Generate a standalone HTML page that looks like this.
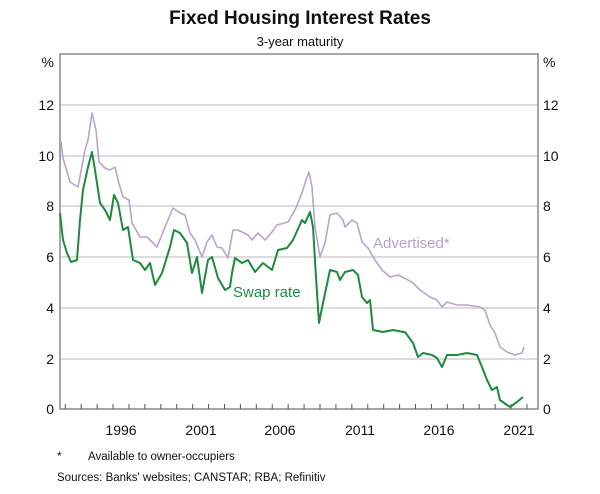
<!DOCTYPE html>
<html><head><meta charset="utf-8"><style>
body{margin:0;background:#fff;width:600px;height:489px;overflow:hidden;font-family:"Liberation Sans",Arial,sans-serif}
</style></head><body>
<svg id="s" width="600" height="489" xmlns="http://www.w3.org/2000/svg" font-family="Liberation Sans, Arial, sans-serif">
<text x="300" y="24" text-anchor="middle" font-size="19" font-weight="bold" fill="#111">Fixed Housing Interest Rates</text>
<text x="300" y="46" text-anchor="middle" font-size="13" fill="#111">3-year maturity</text>
<g stroke="#d0d0d0" stroke-width="1.5">
<line x1="60" x2="538" y1="105" y2="105"/><line x1="60" x2="538" y1="156" y2="156"/>
<line x1="60" x2="538" y1="206" y2="206"/><line x1="60" x2="538" y1="257" y2="257"/>
<line x1="60" x2="538" y1="308" y2="308"/><line x1="60" x2="538" y1="359" y2="359"/>
</g>
<rect x="60" y="54" width="478" height="355" fill="none" stroke="#888" stroke-width="1.5"/>
<g id="ticks" stroke="#555" stroke-width="1"></g>
<g font-size="14" fill="#111" text-anchor="end">
<text x="54" y="67">%</text><text x="54" y="110">12</text><text x="54" y="161">10</text><text x="54" y="211">8</text><text x="54" y="262">6</text><text x="54" y="313">4</text><text x="54" y="364">2</text><text x="54" y="414">0</text>
</g>
<g font-size="14" fill="#111" text-anchor="start">
<text x="543" y="67">%</text><text x="543" y="110">12</text><text x="543" y="161">10</text><text x="543" y="211">8</text><text x="543" y="262">6</text><text x="543" y="313">4</text><text x="543" y="364">2</text><text x="543" y="414">0</text>
</g>
<g font-size="14" fill="#111" text-anchor="middle">
<text x="121" y="435">1996</text><text x="201" y="435">2001</text><text x="280" y="435">2006</text><text x="360" y="435">2011</text><text x="439" y="435">2016</text><text x="519" y="435">2021</text>
</g>
<polyline fill="none" stroke="#bba3cc" stroke-width="1.6" stroke-linejoin="round" points="61,142 63,158 70,182 78,187 85,150 88,140 92,113 96,130 99,162 105,168 110,170 115,167 118,180 123,197 129,200 132,223 140,237 147,237 150,240 157,247 165,227 173,208 180,213 185,215 190,233 195,240 202,257 207,242 212,235 217,247 222,248 228,258 233,230 238,230 248,235 252,240 258,233 265,240 272,232 277,225 288,222 295,210 302,193 306,180 309,172 312,187 315,227 320,257 325,243 330,215 337,213 343,220 345,227 352,220 357,223 362,242 368,248 375,260 382,270 390,277 398,275 408,280 413,283 420,290 430,297 437,300 442,307 447,302 457,305 467,305 480,307 485,310 490,325 495,333 500,347 507,352 515,355 522,353 524,347"/>
<polyline fill="none" stroke="#1e8a3e" stroke-width="2" stroke-linejoin="round" points="60,213 63,240 67,253 71,262 77,260 80,220 83,190 88,167 92,152 95,170 100,203 105,210 110,220 114,195 118,203 123,230 128,227 133,260 140,263 145,270 150,263 155,285 162,273 170,247 174,230 180,233 187,243 192,273 197,257 202,293 208,260 212,257 218,278 225,290 230,287 232,273 235,258 242,263 248,260 255,272 263,263 272,270 278,250 287,248 293,240 302,220 305,223 310,212 313,227 316,277 319,323 323,303 330,270 337,272 340,280 345,272 353,270 358,275 362,297 367,303 370,300 373,330 383,332 393,330 403,332 405,332 413,343 418,357 423,353 432,355 437,358 442,367 447,355 457,355 467,353 477,355 482,367 487,380 492,390 497,387 500,400 507,405 510,407 517,402 523,397"/>
<text x="373" y="248" font-size="15" fill="#b9a0c8">Advertised*</text>
<text x="233" y="297" font-size="15" fill="#1e8a3e">Swap rate</text>
<text x="57" y="460" font-size="12" fill="#111">*</text>
<text x="88" y="460" font-size="11.5" fill="#111">Available to owner-occupiers</text>
<text x="57" y="481" font-size="11.5" fill="#111">Sources: Banks' websites; CANSTAR; RBA; Refinitiv</text>
</svg>
<script>
var g=document.getElementById('ticks'),h='';
for(var y=1993;y<=2022;y++){var x=121+(y-1996.5)*15.92;if(x>60&&x<538)h+='<line x1="'+x+'" x2="'+x+'" y1="409" y2="404"/>';}
g.innerHTML=h;
</script>
</body></html>
